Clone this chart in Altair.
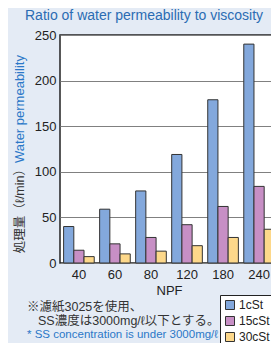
import altair as alt
import pandas as pd

npf = ["40", "60", "80", "120", "180", "240"]
series = ["1cSt", "15cSt", "30cSt"]
v_1cst = [40, 59, 79, 119, 179, 240]
v_15cst = [14, 21, 28, 42, 62, 84]
v_30cst = [7, 10, 13, 19, 28, 37]
colors = ["#83a8dc", "#c78fc5", "#fdd88a"]

rows = []
for s, vals in zip(series, [v_1cst, v_15cst, v_30cst]):
    for n, v in zip(npf, vals):
        rows.append({"NPF": n, "series": s, "value": v})
df = pd.DataFrame(rows)

FONT = "Liberation Sans, Noto Sans CJK JP"

bars = alt.Chart(df).mark_bar(stroke="#333333", strokeWidth=1).encode(
    x=alt.X("NPF:N", sort=npf, title="NPF",
            scale=alt.Scale(paddingInner=0.15, paddingOuter=0.1),
            axis=alt.Axis(labelAngle=0, ticks=False, domain=False, labelFontSize=13,
                          labelColor="#222222", titleFontSize=13, titleColor="#222222",
                          titleFontWeight="normal", labelPadding=5, titlePadding=3,
                          labelFont=FONT, titleFont=FONT)),
    xOffset=alt.XOffset("series:N", sort=series),
    y=alt.Y("value:Q", title=None,
            scale=alt.Scale(domain=[0, 250], nice=False),
            axis=alt.Axis(values=[0, 50, 100, 150, 200, 250], ticks=False, domain=False,
                          labelFontSize=13, labelColor="#222222", labelPadding=4,
                          gridColor="#808080", gridWidth=1, labelFont=FONT)),
    color=alt.Color("series:N", sort=series,
                    scale=alt.Scale(domain=series, range=colors),
                    legend=alt.Legend(title=None, orient="none", legendX=160, legendY=260,
                                      fillColor="white", strokeColor="#222222",
                                      padding=4, rowPadding=2, symbolType="square",
                                      symbolSize=81, symbolStrokeColor="#333333",
                                      symbolStrokeWidth=1, labelFontSize=12,
                                      labelColor="#222222", labelFont=FONT,
                                      symbolOffset=0, labelOffset=3)),
)

def txt(label, x, y, color, size, angle=0, align="left", baseline="middle"):
    d = pd.DataFrame({"t": [label]})
    kw = dict(align=align, baseline=baseline, color=color, fontSize=size, font=FONT)
    if angle:
        kw["angle"] = angle
    return alt.Chart(d).mark_text(**kw).encode(
        text="t:N", x=alt.value(x), y=alt.value(y))

title = txt("Ratio of water permeability to viscosity", -35, -19, "#2b6cb3", 14)
ytitle_jp = txt("処理量（ℓ/min）", -40, 128, "#333333", 12.5, angle=270, align="right")
ytitle_en = txt("Water permeability", -40, 128, "#2b78c8", 13, angle=270, align="left")
note1 = txt("※濾紙3025を使用、", -33, 272, "#333333", 12.5)
note2 = txt("SS濃度は3000mg/ℓ以下とする。", -22, 286, "#333333", 12.5)
note3 = txt("* SS concentration is under 3000mg/ℓ", -33, 300, "#2b78c8", 11.5)

chart = alt.layer(bars, title, ytitle_jp, ytitle_en, note1, note2, note3).properties(
    width=218, height=228,
    autosize=alt.AutoSizeParams(type="none"),
    padding={"left": 52, "top": 27, "right": -7, "bottom": 80},
    background="#e4ebf5",
).configure_view(fill="white", stroke="#222222", strokeWidth=1.5)

chart.save("out.html", embed_options={"renderer": "svg", "actions": False})
